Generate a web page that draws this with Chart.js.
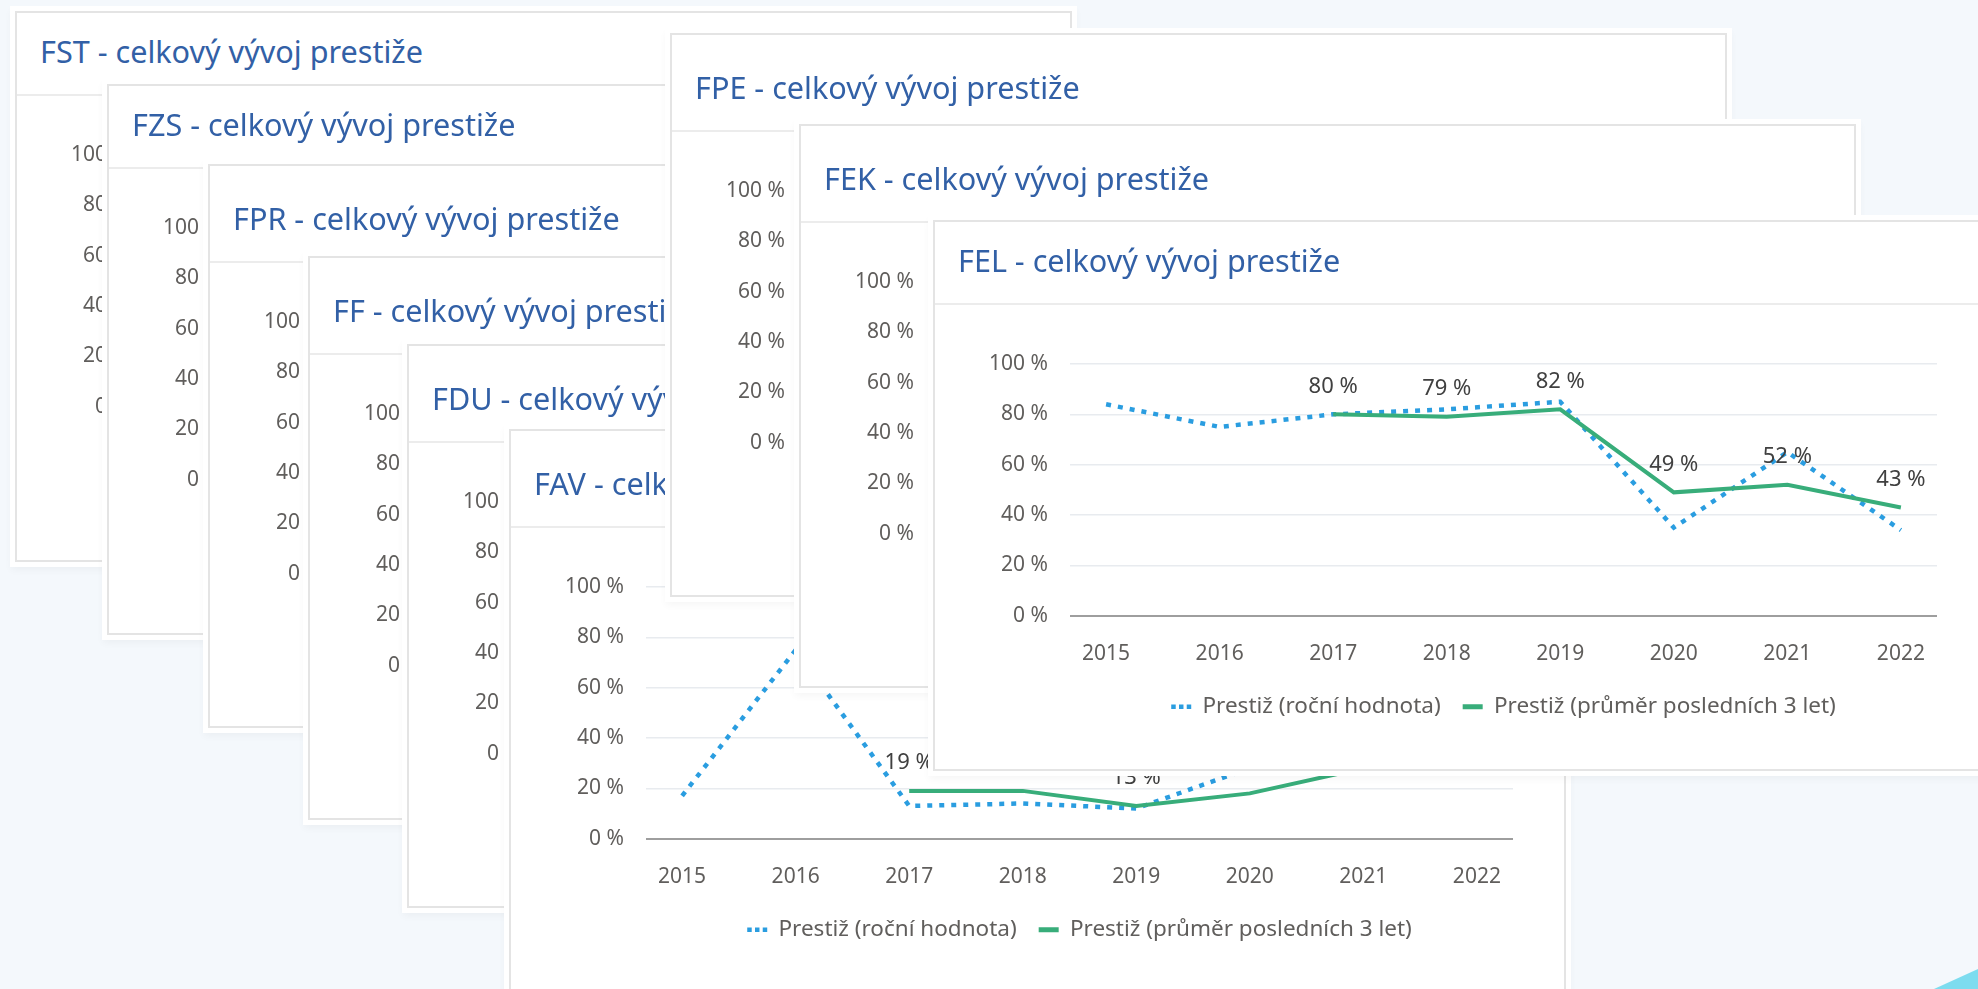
<!DOCTYPE html>
<html lang="cs">
<head>
<meta charset="utf-8">
<title>Celkový vývoj prestiže</title>
<script src="https://cdn.jsdelivr.net/npm/chart.js@4.4.1/dist/chart.umd.min.js"></script>
<style>
  html, body { margin: 0; padding: 0; }
  body {
    width: 1978px; height: 989px; overflow: hidden; position: relative;
    background: #f4f8fc; font-family: 'Noto Sans', sans-serif;
  }
  .card {
    position: absolute; width: 1057px; height: 551px; box-sizing: border-box;
    background: #fff; border: 2px solid #e4e4e4;
    box-shadow: 0 0 0 5px #fff, 0 4px 8px 4px rgba(0, 0, 0, 0.04);
  }
  .card.tall { height: 564px; }
  .card h2 {
    position: absolute; left: 23px; margin: 0; white-space: nowrap;
    font-weight: 400; font-size: 30.6px; line-height: 40px; color: #3260a6;
  }
  .card .sep { position: absolute; left: 0; right: 0; height: 2px; background: #ececec; }
  .card canvas { position: absolute; left: 0; }
  .corner {
    position: absolute; right: 0; bottom: 0; width: 44px; height: 20px;
    background: #7ddcef; clip-path: polygon(0 100%, 100% 0, 100% 100%);
  }
</style>
</head>
<body>
<div class="corner"></div>
<script>
// Data
const years = [2015, 2016, 2017, 2018, 2019, 2020, 2021, 2022];
const yTickValues = [0, 20, 40, 60, 80, 100];
const seriesNames = ['Prestiž (roční hodnota)', 'Prestiž (průměr posledních 3 let)'];

// FEL
const felRocni = [84, 75, 80, 82, 85, 35, 65, 34];
const felPrumer = [null, null, 80, 79, 82, 49, 52, 43];

// FAV (2021-2022 je schované pod kartou FEL)
const favRocni = [17, 75, 13, 14, 12, 28, 44, 36];
const favPrumer = [null, null, 19, 19, 13, 18, 28, 36];

const faculties = ['FST', 'FZS', 'FPR', 'FF', 'FDU', 'FAV', 'FPE', 'FEK', 'FEL'];
const facultySeries = { FAV: [favRocni, favPrumer], FEL: [felRocni, felPrumer] };

// rozložení karet: [left, top, vyšší hlavička]
const cardPos = {
    FST: [15, 11, false], FZS: [107, 84, false], FPR: [208, 164, true],
    FF: [308, 256, true], FDU: [407, 344, true], FAV: [509, 429, true],
    FPE: [670, 33, true], FEK: [799, 124, true], FEL: [933, 220, false]
};

Chart.defaults.font.family = "'Noto Sans', sans-serif";

const rocniColor = '#2a9de0';
const prumerColor = '#38ad7a';
const textColor = '#605e5c';

// popisky hodnot nad zelenou čárou
const valueLabels = {
    id: 'valueLabels',
    afterDatasetsDraw(chart) {
        const ds = chart.data.datasets[1];
        const meta = chart.getDatasetMeta(1);
        const ctx = chart.ctx;
        ctx.save();
        ctx.font = "22px 'Noto Sans', sans-serif";
        ctx.fillStyle = '#404040';
        ctx.textAlign = 'center';
        ctx.textBaseline = 'middle';
        meta.data.forEach((pt, i) => {
            const v = ds.data[i];
            if (v == null) return;
            ctx.fillText(v + ' %', pt.x, pt.y - 28);
        });
        ctx.restore();
    }
};

function makeChart(canvas, series) {
    return new Chart(canvas, {
        type: 'line',
        data: {
            labels: years,
            datasets: [
                {
                    label: seriesNames[0], data: series[0],
                    borderColor: rocniColor, borderWidth: 4.5, borderDash: [5, 7],
                    pointRadius: 0, tension: 0, order: 1
                },
                {
                    label: seriesNames[1], data: series[1],
                    borderColor: prumerColor, borderWidth: 4,
                    pointRadius: 0, tension: 0, order: 0
                }
            ]
        },
        options: {
            responsive: false,
            animation: false,
            layout: { padding: { top: 54, right: 51, bottom: 41, left: 0 } },
            plugins: {
                tooltip: { enabled: false },
                legend: {
                    position: 'bottom',
                    fullSize: false,
                    labels: {
                        usePointStyle: true,
                        pointStyleWidth: 20,
                        padding: 22,
                        font: { size: 22.5 },
                        generateLabels: chart => chart.data.datasets.map((ds, i) => ({
                            text: ds.label,
                            fillStyle: ds.borderColor,
                            strokeStyle: ds.borderColor,
                            fontColor: textColor,
                            lineWidth: i === 0 ? 4.5 : 5,
                            lineDash: i === 0 ? [4.5, 3.25] : [],
                            lineCap: 'butt',
                            pointStyle: 'line',
                            hidden: false,
                            datasetIndex: i
                        }))
                    }
                }
            },
            scales: {
                x: {
                    type: 'linear',
                    min: years[0] - 0.318,
                    max: years[years.length - 1] + 0.318,
                    afterBuildTicks: s => { s.ticks = years.map(v => ({ value: v })); },
                    afterFit: s => { s.height = 57.8; },
                    grid: { display: false, drawTicks: false },
                    border: { display: false },
                    ticks: {
                        padding: 25.4, color: textColor, font: { size: 21 },
                        maxRotation: 0, autoSkip: false,
                        callback: v => String(v)
                    }
                },
                y: {
                    min: 0, max: 100,
                    afterBuildTicks: s => { s.ticks = yTickValues.map(v => ({ value: v })); },
                    afterFit: s => { s.width = 135; },
                    grid: {
                        drawTicks: false,
                        color: c => c.tick.value === 0 ? '#9e9e9e' : '#e8ebef',
                        lineWidth: c => c.tick.value === 0 ? 2 : 1.5
                    },
                    border: { display: false },
                    ticks: {
                        padding: 22, color: textColor, font: { size: 21 },
                        callback: v => v + ' %'
                    }
                }
            }
        },
        plugins: [valueLabels]
    });
}

faculties.forEach((name, idx) => {
    const [left, top, tall] = cardPos[name];
    const shift = tall ? 14 : 0;
    const card = document.createElement('div');
    card.className = 'card' + (tall ? ' tall' : '');
    card.style.left = left + 'px';
    card.style.top = top + 'px';
    card.style.zIndex = idx + 1;
    card.innerHTML =
        `<h2 style="top:${18 + shift}px">${name} - celkový vývoj prestiže</h2>` +
        `<div class="sep" style="top:${81 + shift}px"></div>` +
        `<canvas width="1053" height="459" style="top:${88 + shift}px"></canvas>`;
    document.body.appendChild(card);
    makeChart(card.querySelector('canvas'), facultySeries[name] || [[], []]);
});
</script>
</body>
</html>
